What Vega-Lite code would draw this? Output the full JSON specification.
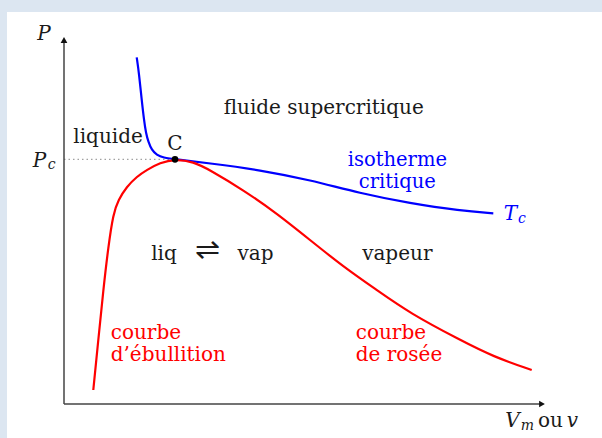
{
  "$schema": "https://vega.github.io/schema/vega-lite/v6.json",
  "width": 595,
  "height": 426,
  "autosize": {"type": "none"},
  "padding": {"left": 7, "top": 12, "right": 0, "bottom": 0},
  "background": "#dce6f1",
  "config": {"view": {"fill": "white", "stroke": null}},
  "datasets": {
    "courbes": [
      {"courbe": "isotherme", "ordre": 1, "v": 72.7, "p": 346.7},
      {"courbe": "isotherme", "ordre": 2, "v": 75, "p": 330.7},
      {"courbe": "isotherme", "ordre": 3, "v": 77.7, "p": 304},
      {"courbe": "isotherme", "ordre": 4, "v": 80, "p": 284},
      {"courbe": "isotherme", "ordre": 5, "v": 82, "p": 270.7},
      {"courbe": "isotherme", "ordre": 6, "v": 84.3, "p": 262.3},
      {"courbe": "isotherme", "ordre": 7, "v": 87.7, "p": 254},
      {"courbe": "isotherme", "ordre": 8, "v": 92.7, "p": 249},
      {"courbe": "isotherme", "ordre": 9, "v": 99.3, "p": 246.3},
      {"courbe": "isotherme", "ordre": 10, "v": 111, "p": 244.7},
      {"courbe": "isotherme", "ordre": 11, "v": 146, "p": 240.7},
      {"courbe": "isotherme", "ordre": 12, "v": 196, "p": 234},
      {"courbe": "isotherme", "ordre": 13, "v": 246, "p": 224},
      {"courbe": "isotherme", "ordre": 14, "v": 296, "p": 210.7},
      {"courbe": "isotherme", "ordre": 15, "v": 346, "p": 200.7},
      {"courbe": "isotherme", "ordre": 16, "v": 396, "p": 193.3},
      {"courbe": "isotherme", "ordre": 17, "v": 429.3, "p": 190.7},
      {"courbe": "saturation", "ordre": 1, "v": 29.3, "p": 14},
      {"courbe": "saturation", "ordre": 2, "v": 34.3, "p": 64},
      {"courbe": "saturation", "ordre": 3, "v": 39.3, "p": 114},
      {"courbe": "saturation", "ordre": 4, "v": 44.3, "p": 157.3},
      {"courbe": "saturation", "ordre": 5, "v": 49.3, "p": 190.7},
      {"courbe": "saturation", "ordre": 6, "v": 54.3, "p": 204},
      {"courbe": "saturation", "ordre": 7, "v": 62.7, "p": 217.3},
      {"courbe": "saturation", "ordre": 8, "v": 72.7, "p": 227.3},
      {"courbe": "saturation", "ordre": 9, "v": 82.7, "p": 234},
      {"courbe": "saturation", "ordre": 10, "v": 96, "p": 241.3},
      {"courbe": "saturation", "ordre": 11, "v": 111, "p": 244.9},
      {"courbe": "saturation", "ordre": 12, "v": 129.3, "p": 242.3},
      {"courbe": "saturation", "ordre": 13, "v": 146, "p": 234},
      {"courbe": "saturation", "ordre": 14, "v": 179.3, "p": 214},
      {"courbe": "saturation", "ordre": 15, "v": 212.7, "p": 190.7},
      {"courbe": "saturation", "ordre": 16, "v": 246, "p": 164},
      {"courbe": "saturation", "ordre": 17, "v": 279.3, "p": 137.3},
      {"courbe": "saturation", "ordre": 18, "v": 312.7, "p": 114},
      {"courbe": "saturation", "ordre": 19, "v": 346, "p": 90.7},
      {"courbe": "saturation", "ordre": 20, "v": 396, "p": 64},
      {"courbe": "saturation", "ordre": 21, "v": 429.3, "p": 47.3},
      {"courbe": "saturation", "ordre": 22, "v": 467.7, "p": 34}
    ],
    "axes": [
      {"axe": "P", "v": 0, "p": 0, "v2": 0, "p2": 362},
      {"axe": "V", "v": 0, "p": 0, "v2": 476, "p2": 0}
    ],
    "fleches": [
      {"axe": "P", "v": 0, "p": 364},
      {"axe": "V", "v": 478, "p": 0}
    ],
    "repere": [
      {"v": 0, "p": 244.7, "v2": 111}
    ],
    "critique": [
      {"nom": "C", "v": 111, "p": 244.7}
    ],
    "etiquettes": [
      {"texte": "fluide supercritique", "groupe": "texte", "v": 259.7, "p": 290},
      {"texte": "C", "groupe": "texte", "v": 111, "p": 254},
      {"texte": "liq", "groupe": "texte", "v": 100, "p": 144},
      {"texte": "vap", "groupe": "texte", "v": 191.5, "p": 144},
      {"texte": "vapeur", "groupe": "texte", "v": 333.3, "p": 144},
      {"texte": "ou", "groupe": "texte", "v": 486.5, "p": -22.7}
    ],
    "isotherme_texte": [
      {"texte": "isotherme", "groupe": "isotherme", "v": 333.3, "p": 238.5},
      {"texte": "critique", "groupe": "isotherme", "v": 333.3, "p": 216.5}
    ],
    "etiquettes_gauche": [
      {"texte": "liquide", "groupe": "texte", "v": 9.3, "p": 261.3},
      {"texte": "courbe", "groupe": "saturation", "v": 46.7, "p": 65.5},
      {"texte": "d’ébullition", "groupe": "saturation", "v": 46.7, "p": 43.5},
      {"texte": "courbe", "groupe": "saturation", "v": 291.7, "p": 65.5},
      {"texte": "de rosée", "groupe": "saturation", "v": 291.7, "p": 43.5}
    ],
    "equilibre": [
      {"texte": "⇌", "groupe": "texte", "v": 143, "p": 145}
    ],
    "symboles": [
      {"texte": "P", "groupe": "texte", "v": -20, "p": 364},
      {"texte": "P", "groupe": "texte", "v": -24.5, "p": 237.5},
      {"texte": "T", "groupe": "isotherme", "v": 446.5, "p": 184},
      {"texte": "V", "groupe": "texte", "v": 448.5, "p": -22.7},
      {"texte": "v", "groupe": "texte", "v": 508.5, "p": -22.7}
    ],
    "indices": [
      {"texte": "c", "groupe": "texte", "v": -12.3, "p": 235},
      {"texte": "c", "groupe": "isotherme", "v": 458, "p": 181},
      {"texte": "m", "groupe": "texte", "v": 463.5, "p": -26}
    ]
  },
  "encoding": {
    "x": {"field": "v", "type": "quantitative", "scale": {"domain": [-57, 538], "nice": false, "zero": false}, "axis": null},
    "y": {"field": "p", "type": "quantitative", "scale": {"domain": [-34, 392], "nice": false, "zero": false}, "axis": null}
  },
  "layer": [
    {
      "data": {"name": "repere"},
      "mark": {"type": "rule", "color": "#8a8a8a", "strokeWidth": 1, "strokeDash": [1.5, 3]},
      "encoding": {"x2": {"field": "v2"}}
    },
    {
      "data": {"name": "axes"},
      "mark": {"type": "rule", "color": "#444444", "strokeWidth": 1.5},
      "encoding": {"x2": {"field": "v2"}, "y2": {"field": "p2"}}
    },
    {
      "data": {"name": "fleches"},
      "mark": {"type": "point", "filled": true, "color": "#111111", "opacity": 1, "size": 45},
      "encoding": {
        "shape": {"field": "axe", "type": "nominal", "scale": {"domain": ["P", "V"], "range": ["triangle-up", "triangle-right"]}, "legend": null}
      }
    },
    {
      "data": {"name": "courbes"},
      "mark": {"type": "line", "strokeWidth": 2.2, "interpolate": "basis"},
      "encoding": {
        "color": {"field": "courbe", "type": "nominal", "scale": {"domain": ["texte", "saturation", "isotherme"], "range": ["#1a1a1a", "#ff0000", "#0000ff"]}, "legend": null},
        "order": {"field": "ordre", "type": "quantitative"}
      }
    },
    {
      "data": {"name": "critique"},
      "mark": {"type": "circle", "color": "#000000", "opacity": 1, "size": 45}
    },
    {
      "data": {"name": "etiquettes"},
      "mark": {"type": "text", "font": "DejaVu Serif", "fontSize": 20, "align": "center", "baseline": "alphabetic"},
      "encoding": {
        "text": {"field": "texte"},
        "color": {"field": "groupe", "type": "nominal", "scale": {"domain": ["texte", "saturation", "isotherme"], "range": ["#1a1a1a", "#ff0000", "#0000ff"]}, "legend": null}
      }
    },
    {
      "data": {"name": "isotherme_texte"},
      "mark": {"type": "text", "font": "DejaVu Serif", "fontSize": 19.5, "align": "center", "baseline": "alphabetic"},
      "encoding": {
        "text": {"field": "texte"},
        "color": {"field": "groupe", "type": "nominal", "scale": {"domain": ["texte", "saturation", "isotherme"], "range": ["#1a1a1a", "#ff0000", "#0000ff"]}, "legend": null}
      }
    },
    {
      "data": {"name": "etiquettes_gauche"},
      "mark": {"type": "text", "font": "DejaVu Serif", "fontSize": 20, "align": "left", "baseline": "alphabetic"},
      "encoding": {
        "text": {"field": "texte"},
        "color": {"field": "groupe", "type": "nominal", "scale": {"domain": ["texte", "saturation", "isotherme"], "range": ["#1a1a1a", "#ff0000", "#0000ff"]}, "legend": null}
      }
    },
    {
      "data": {"name": "equilibre"},
      "mark": {"type": "text", "font": "DejaVu Sans", "fontWeight": 200, "fontSize": 30, "align": "center", "baseline": "alphabetic"},
      "encoding": {
        "text": {"field": "texte"},
        "color": {"field": "groupe", "type": "nominal", "scale": {"domain": ["texte", "saturation", "isotherme"], "range": ["#1a1a1a", "#ff0000", "#0000ff"]}, "legend": null}
      }
    },
    {
      "data": {"name": "symboles"},
      "mark": {"type": "text", "font": "DejaVu Serif", "fontStyle": "italic", "fontSize": 20, "align": "center", "baseline": "alphabetic"},
      "encoding": {
        "text": {"field": "texte"},
        "color": {"field": "groupe", "type": "nominal", "scale": {"domain": ["texte", "saturation", "isotherme"], "range": ["#1a1a1a", "#ff0000", "#0000ff"]}, "legend": null}
      }
    },
    {
      "data": {"name": "indices"},
      "mark": {"type": "text", "font": "DejaVu Serif", "fontStyle": "italic", "fontSize": 14, "align": "center", "baseline": "alphabetic"},
      "encoding": {
        "text": {"field": "texte"},
        "color": {"field": "groupe", "type": "nominal", "scale": {"domain": ["texte", "saturation", "isotherme"], "range": ["#1a1a1a", "#ff0000", "#0000ff"]}, "legend": null}
      }
    }
  ]
}
